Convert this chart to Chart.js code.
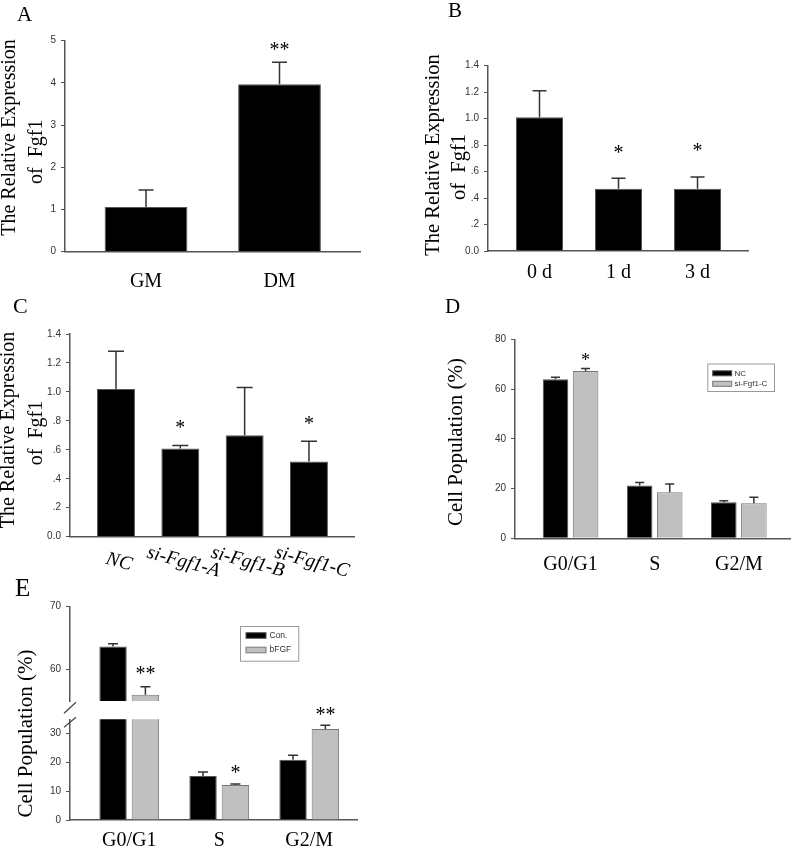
<!DOCTYPE html>
<html>
<head>
<meta charset="utf-8">
<script src="https://cdn.jsdelivr.net/npm/chart.js@4.4.1/dist/chart.umd.min.js"></script>
<style>
    body { margin: 0; background: #fff; }
    #fig { position: relative; width: 795px; height: 849px; overflow: hidden; background: #fff; }
    #fig canvas { position: absolute; }
</style>
</head>
<body>
<div id="fig"></div>
<script>
// Panel A
const aLabels = ["GM", "DM"];
const aValues = [1.06, 3.97];
const aErrors = [0.40, 0.52];
const aStars = ["", "**"];
const aTicks = ["0", "1", "2", "3", "4", "5"];

// Panel B
const bLabels = ["0 d", "1 d", "3 d"];
const bValues = [1.01, 0.47, 0.47];
const bErrors = [0.20, 0.08, 0.09];
const bStars = ["", "*", "*"];
const bTicks = ["0.0", ".2", ".4", ".6", ".8", "1.0", "1.2", "1.4"];

// Panel C
const cLabels = ["NC", "si-Fgf1-A", "si-Fgf1-B", "si-Fgf1-C"];
const cValues = [1.02, 0.61, 0.70, 0.52];
const cErrors = [0.26, 0.02, 0.33, 0.14];
const cStars = ["", "*", "", "*"];
const cTicks = ["0.0", ".2", ".4", ".6", ".8", "1.0", "1.2", "1.4"];

// Panel D
const dLabels = ["G0/G1", "S", "G2/M"];
const dSeries = ["NC", "si-Fgf1-C"];
const dNC = [63.9, 21.2, 14.5];
const dNCErr = [0.8, 1.2, 0.6];
const dSi = [67.3, 18.5, 14.1];
const dSiErr = [1.0, 3.3, 2.4];
const dStars = ["*", "", ""];
const dTicks = ["0", "20", "40", "60", "80"];

// Panel E (broken axis)
const eLabels = ["G0/G1", "S", "G2/M"];
const eSeries = ["Con.", "bFGF"];
const eCon = [63.65, 15.3, 20.9];
const eConErr = [0.45, 1.4, 1.6];
const eBFGF = [56.0, 12.2, 31.6];
const eBFGFErr = [1.25, 0.3, 1.3];
const eStars = ["**", "*", "**"];
const eTicksHigh = ["60", "70"];
const eTicksLow = ["0", "10", "20", "30"];

const SERIF = '"Liberation Serif", "Times New Roman", serif';
const SANS = '"Liberation Sans", Arial, sans-serif';
Chart.defaults.font.family = SANS;
const fig = document.getElementById("fig");

const BLACK = { backgroundColor: "#000", borderColor: "#555", borderWidth: 1 };
const GREY = { backgroundColor: "#c0c0c0", borderColor: "#777", borderWidth: 1 };

function points(values, keep) {
    return values.map((v, i) => ({ x: i, y: keep && !keep(v) ? null : v }));
}

// draws error bars, stars, letters, titles, legend box
function extras(p) {
    const ox = p.box[0], oy = p.box[1];
    return {
        id: "extras" + p.id,
        afterDatasetsDraw(chart) {
            if (!p.errors) return;
            const ctx = chart.ctx, ys = chart.scales.y;
            ctx.save();
            ctx.strokeStyle = "#333";
            ctx.lineWidth = 1.5;
            ctx.fillStyle = "#000";
            ctx.font = p.starSize + "px " + SERIF;
            ctx.textAlign = "center";
            ctx.textBaseline = "alphabetic";
            chart.data.datasets.forEach((ds, di) => {
                const errs = p.errors[di], stars = p.stars[di];
                chart.getDatasetMeta(di).data.forEach((bar, i) => {
                    const v = ds.data[i].y;
                    if (v === null || v > ys.max || v < ys.min) return;
                    const y0 = ys.getPixelForValue(v);
                    const y1 = ys.getPixelForValue(v + errs[i]);
                    ctx.beginPath();
                    ctx.moveTo(bar.x, y0);
                    ctx.lineTo(bar.x, y1);
                    ctx.moveTo(bar.x - p.cap / 2, y1);
                    ctx.lineTo(bar.x + p.cap / 2, y1);
                    ctx.stroke();
                    if (stars && stars[i]) {
                        ctx.fillText(stars[i], bar.x, y1 - p.starGap + 0.52 * p.starSize);
                    }
                });
            });
            ctx.restore();
        },
        afterDraw(chart) {
            const ctx = chart.ctx;
            ctx.save();
            ctx.fillStyle = "#000";
            if (p.letter) {
                ctx.font = p.letter.size + "px " + SERIF;
                ctx.textAlign = "left";
                ctx.textBaseline = "alphabetic";
                ctx.fillText(p.letter.text, p.letter.x - ox, p.letter.y - oy);
            }
            (p.titles || []).forEach((t) => {
                ctx.save();
                ctx.translate(t.x - ox, t.y - oy);
                ctx.rotate(-Math.PI / 2);
                ctx.font = t.size + "px " + SERIF;
                ctx.textAlign = "center";
                ctx.textBaseline = "middle";
                ctx.fillText(t.text, 0, 0);
                ctx.restore();
            });
            if (p.slanted) {
                const xs = chart.scales.x, s = p.slanted;
                p.xLabels.forEach((lab, i) => {
                    ctx.save();
                    ctx.translate(xs.getPixelForValue(i) + s.dx, s.y - oy);
                    ctx.rotate((s.angle * Math.PI) / 180);
                    ctx.font = "italic " + s.size + "px " + SERIF;
                    ctx.textAlign = "center";
                    ctx.textBaseline = "middle";
                    ctx.fillText(lab, 0, 0);
                    ctx.restore();
                });
            }
            if (p.legend) {
                const L = p.legend;
                ctx.fillStyle = "#fff";
                ctx.fillRect(L.x - ox, L.y - oy, L.w, L.h);
                ctx.strokeStyle = "#999";
                ctx.lineWidth = 1;
                ctx.strokeRect(L.x - ox + 0.5, L.y - oy + 0.5, L.w, L.h);
                ctx.font = L.size + "px " + SANS;
                ctx.textAlign = "left";
                ctx.textBaseline = "middle";
                chart.data.datasets.forEach((ds, di) => {
                    const cy = L.rows[di] - oy;
                    ctx.fillStyle = ds.backgroundColor;
                    ctx.fillRect(L.swX - ox, cy - L.swH / 2, L.swW, L.swH);
                    ctx.strokeStyle = ds.borderColor;
                    ctx.strokeRect(L.swX - ox, cy - L.swH / 2, L.swW, L.swH);
                    ctx.fillStyle = "#333";
                    ctx.fillText(ds.label, L.textX - ox, cy);
                });
            }
            if (p.breakMarks) {
                const a = chart.chartArea;
                ctx.strokeStyle = "#444";
                ctx.lineWidth = 1.2;
                ctx.beginPath();
                ctx.moveTo(a.left - 6, a.top - 6);
                ctx.lineTo(a.left + 6, a.top - 17);
                ctx.moveTo(a.left - 6, a.top + 8);
                ctx.lineTo(a.left + 6, a.top - 2);
                ctx.stroke();
            }
            ctx.restore();
        },
    };
}

function makePanel(p) {
    const [bx, by, bw, bh] = p.box;
    const [al, at, ar, ab] = p.area;
    const cv = document.createElement("canvas");
    cv.width = bw;
    cv.height = bh;
    cv.style.left = bx + "px";
    cv.style.top = by + "px";
    fig.appendChild(cv);
    const yTicks = p.yTicks;
    return new Chart(cv.getContext("2d"), {
        type: "bar",
        data: { datasets: p.datasets },
        options: {
            responsive: false,
            animation: false,
            layout: { padding: { left: 0, top: at - by, right: bx + bw - ar, bottom: 0 } },
            plugins: { legend: { display: false }, tooltip: { enabled: false } },
            scales: {
                x: {
                    type: "linear",
                    offset: false,
                    min: p.xRange[0],
                    max: p.xRange[1],
                    grid: { display: false, drawTicks: false },
                    border: { display: !p.hideX, color: "#555", width: 1.5 },
                    afterBuildTicks: (s) => {
                        s.ticks = p.xLabels.map((l, i) => ({ value: i }));
                    },
                    ticks: {
                        display: !p.hideX && !p.slanted,
                        autoSkip: false,
                        maxRotation: 0,
                        padding: p.xPad || 0,
                        color: "#000",
                        font: { family: SERIF, size: 20 },
                        callback: (v, i) => p.xLabels[i],
                    },
                    afterFit: (s) => {
                        s.height = by + bh - ab;
                    },
                },
                y: {
                    type: "linear",
                    min: p.yRange[0],
                    max: p.yRange[1],
                    grid: { display: true, drawOnChartArea: false, drawTicks: true, tickLength: 4, color: "#555" },
                    border: { display: true, color: "#555", width: 1.5 },
                    afterBuildTicks: (s) => {
                        s.ticks = yTicks.map((t) => ({ value: Number(t) }));
                    },
                    ticks: {
                        autoSkip: false,
                        padding: 5,
                        color: "#333",
                        font: { family: SANS, size: 10 },
                        callback: (v, i) => yTicks[i],
                    },
                    afterFit: (s) => {
                        s.width = al - bx;
                    },
                },
            },
        },
        plugins: [extras(p)],
    });
}

window.onload = function () {
    makePanel({
        id: "A", box: [0, 0, 400, 290], area: [65, 40.7, 360, 251.7],
        xRange: [-0.607, 1.603], yRange: [0, 5], yTicks: aTicks, xLabels: aLabels, xPad: 18,
        datasets: [{ label: "A", data: points(aValues), ...BLACK, barPercentage: 0.62, categoryPercentage: 1, clip: 0 }],
        errors: [aErrors], stars: [aStars], cap: 15, starGap: 17, starSize: 20,
        letter: { text: "A", x: 17, y: 21, size: 21 },
        titles: [
            { text: "The Relative Expression", x: 9.5, y: 137.5, size: 20 },
            { text: "of  Fgf1", x: 36.5, y: 151.7, size: 20 },
        ],
    });
    makePanel({
        id: "B", box: [400, 0, 395, 290], area: [488, 65.7, 748, 251],
        xRange: [-0.652, 2.639], yRange: [0, 1.4], yTicks: bTicks, xLabels: bLabels, xPad: 10,
        datasets: [{ label: "B", data: points(bValues), ...BLACK, barPercentage: 0.595, categoryPercentage: 1, clip: 0 }],
        errors: [bErrors], stars: [bStars], cap: 14, starGap: 30, starSize: 20,
        letter: { text: "B", x: 448, y: 17, size: 21 },
        titles: [
            { text: "The Relative Expression", x: 434, y: 155, size: 20.5 },
            { text: "of  Fgf1", x: 460, y: 167, size: 20.5 },
        ],
    });
    makePanel({
        id: "C", box: [0, 290, 400, 305], area: [70, 334, 354, 536.7],
        xRange: [-0.715, 3.7], yRange: [0, 1.4], yTicks: cTicks, xLabels: cLabels,
        slanted: { y: 562, dx: 3, angle: 15, size: 19.5 },
        datasets: [{ label: "C", data: points(cValues), ...BLACK, barPercentage: 0.59, categoryPercentage: 1, clip: 0 }],
        errors: [cErrors], stars: [cStars], cap: 16, starGap: 22, starSize: 20,
        letter: { text: "C", x: 13, y: 313, size: 22 },
        titles: [
            { text: "The Relative Expression", x: 9, y: 430, size: 20 },
            { text: "of  Fgf1", x: 36.5, y: 433, size: 20 },
        ],
    });
    makePanel({
        id: "D", box: [400, 290, 395, 290], area: [515, 339.3, 790, 538.3],
        xRange: [-0.66, 2.608], yRange: [0, 80], yTicks: dTicks, xLabels: dLabels, xPad: 14,
        datasets: [
            { label: dSeries[0], data: points(dNC), ...BLACK, barPercentage: 0.85, categoryPercentage: 0.715, clip: 0 },
            { label: dSeries[1], data: points(dSi), ...GREY, barPercentage: 0.85, categoryPercentage: 0.715, clip: 0 },
        ],
        errors: [dNCErr, dSiErr], stars: [null, dStars], cap: 9, starGap: 12, starSize: 18,
        letter: { text: "D", x: 445, y: 313, size: 21 },
        titles: [{ text: "Cell Population (%)", x: 456.7, y: 442, size: 21 }],
        legend: { x: 707.3, y: 363.5, w: 66.7, h: 27.5, swX: 712.7, swW: 19, swH: 5, rows: [373.3, 383.8], textX: 734.5, size: 8 },
    });
    // upper part of the broken axis
    makePanel({
        id: "Ehigh", box: [0, 560, 400, 152], area: [70, 606.7, 357, 707], hideX: true,
        xRange: [-0.658, 2.531], yRange: [55, 70], yTicks: eTicksHigh, xLabels: eLabels,
        datasets: [
            { label: eSeries[0], data: points(eCon, (v) => v >= 55), ...BLACK, barPercentage: 0.847, categoryPercentage: 0.719, clip: 0 },
            { label: eSeries[1], data: points(eBFGF, (v) => v >= 55), ...GREY, barPercentage: 0.847, categoryPercentage: 0.719, clip: 0 },
        ],
        errors: [eConErr, eBFGFErr], stars: [null, eStars], cap: 10, starGap: 17, starSize: 20,
    });
    // lower part of the broken axis
    makePanel({
        id: "Elow", box: [0, 560, 400, 289], area: [70, 719.3, 357, 820],
        xRange: [-0.658, 2.531], yRange: [0, 35], yTicks: eTicksLow, xLabels: eLabels, xPad: 8.5,
        datasets: [
            { label: eSeries[0], data: points(eCon), ...BLACK, barPercentage: 0.847, categoryPercentage: 0.719, clip: 0 },
            { label: eSeries[1], data: points(eBFGF), ...GREY, barPercentage: 0.847, categoryPercentage: 0.719, clip: 0 },
        ],
        errors: [eConErr, eBFGFErr], stars: [null, eStars], cap: 10, starGap: 15, starSize: 20,
        breakMarks: true,
        letter: { text: "E", x: 15, y: 596, size: 25 },
        titles: [{ text: "Cell Population (%)", x: 26, y: 733.5, size: 21 }],
        legend: { x: 240, y: 626, w: 58.3, h: 34.7, swX: 246, swW: 20, swH: 5.6, rows: [635.5, 650], textX: 269.5, size: 8.5 },
    });
};
</script>
</body>
</html>
